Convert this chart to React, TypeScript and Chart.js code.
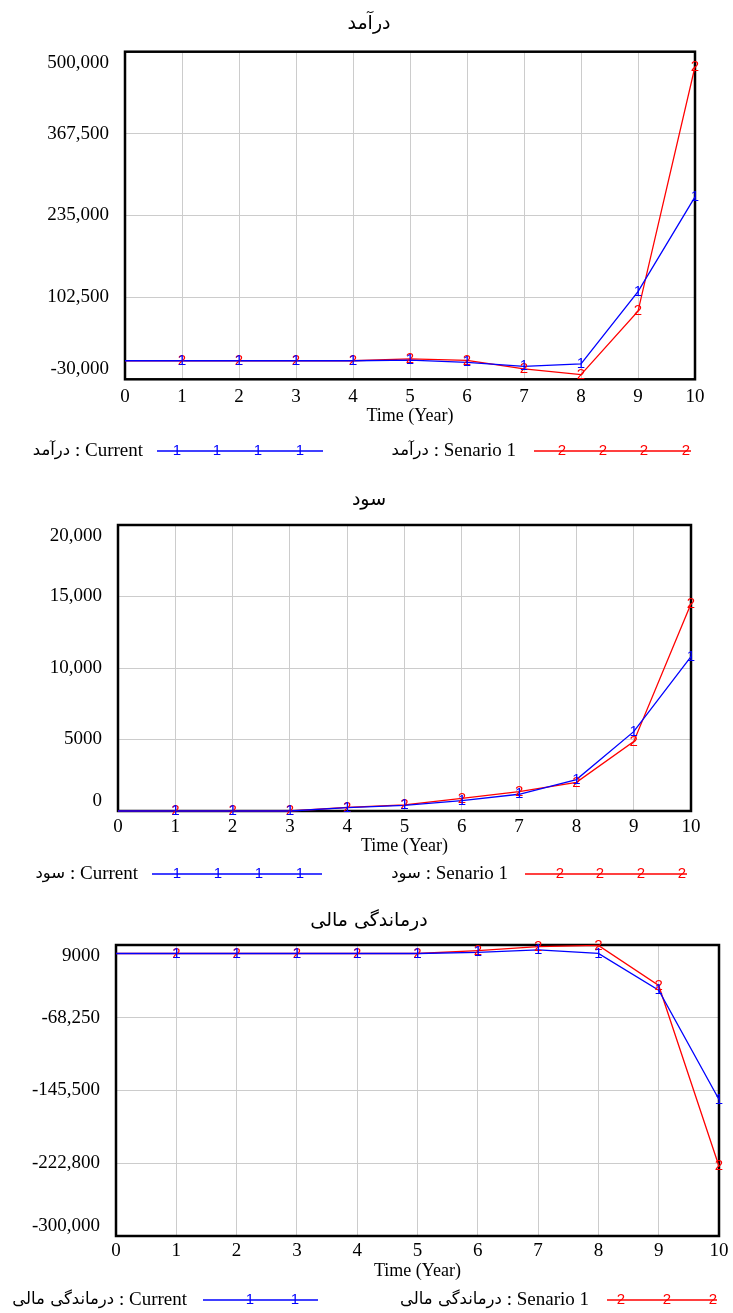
import React, { useEffect, useRef } from "react";
import { Chart, registerables } from "chart.js";

Chart.register(...registerables);

// ---------- data ----------
const years = [0, 1, 2, 3, 4, 5, 6, 7, 8, 9, 10];

const revenueTitle = "درآمد";
const revenueCurrent = [0, 0, 0, 0, 0, 1000, -2500, -9000, -5000, 112000, 265000];
const revenueScenario = [0, 0, 0, 0, 0, 3000, 500, -13000, -22500, 80000, 476000];
const revenueMin = -30000;
const revenueMax = 500000;
const revenueTickLabels = ["500,000", "367,500", "235,000", "102,500", "-30,000"];

const profitTitle = "سود";
const profitCurrent = [0, 0, 0, 0, 230, 400, 720, 1170, 2200, 5550, 10800];
const profitScenario = [0, 0, 0, 0, 250, 430, 880, 1350, 2000, 4850, 14500];
const profitMin = 0;
const profitMax = 20000;
const profitTickLabels = ["20,000", "15,000", "10,000", "5000", "0"];

const distressTitle = "درماندگی مالی";
const distressCurrent = [0, 0, 0, 0, 0, 0, 1200, 3800, 0, -39000, -155000];
const distressScenario = [0, 0, 0, 0, 0, 0, 3000, 7300, 8500, -34000, -226000];
const distressMin = -300000;
const distressMax = 9000;
const distressTickLabels = ["9000", "-68,250", "-145,500", "-222,800", "-300,000"];

const xAxisTitle = "Time (Year)";
const currentName = "Current";
const scenarioName = "Senario 1";
const currentMark = "1";
const scenarioMark = "2";

// ---------- styles ----------
const W = 733;
const SERIF = '"Liberation Serif", "Times New Roman", "DejaVu Sans", serif';
const PERSIAN = '"DejaVu Sans", "Liberation Sans", sans-serif';
const MARKFONT = '"Liberation Sans", Arial, sans-serif';
const BLUE = "#0000ff";
const RED = "#ff0000";
const GRID = "#cccccc";
const XBOX = 40;

interface LegendSpec {
  textRight: number;
  lineStart: number;
  lineEnd: number;
  marks: number[];
}
interface PanelSpec {
  title: string;
  current: number[];
  scenario: number[];
  yMin: number;
  yMax: number;
  tickLabels: string[];
  top: number;
  height: number;
  area: { left: number; right: number; top: number; bottom: number };
  titleY: number;
  xTickPad: number;
  axisTitleY: number;
  legendY: number;
  leg1: LegendSpec;
  leg2: LegendSpec;
}

const panels: PanelSpec[] = [
  {
    title: revenueTitle,
    current: revenueCurrent,
    scenario: revenueScenario,
    yMin: revenueMin,
    yMax: revenueMax,
    tickLabels: revenueTickLabels,
    top: 0,
    height: 470,
    area: { left: 125, right: 695, top: 51.7, bottom: 379.3 },
    titleY: 24,
    xTickPad: 6,
    axisTitleY: 416,
    legendY: 451,
    leg1: { textRight: 143, lineStart: 157, lineEnd: 323, marks: [177, 217, 258, 300] },
    leg2: { textRight: 516, lineStart: 534, lineEnd: 691, marks: [562, 603, 644, 686] },
  },
  {
    title: profitTitle,
    current: profitCurrent,
    scenario: profitScenario,
    yMin: profitMin,
    yMax: profitMax,
    tickLabels: profitTickLabels,
    top: 470,
    height: 420,
    area: { left: 118, right: 691, top: 55, bottom: 341 },
    titleY: 30,
    xTickPad: 5,
    axisTitleY: 376,
    legendY: 404,
    leg1: { textRight: 138, lineStart: 152, lineEnd: 322, marks: [177, 218, 259, 300] },
    leg2: { textRight: 508, lineStart: 525, lineEnd: 687, marks: [560, 600, 641, 682] },
  },
  {
    title: distressTitle,
    current: distressCurrent,
    scenario: distressScenario,
    yMin: distressMin,
    yMax: distressMax,
    tickLabels: distressTickLabels,
    top: 890,
    height: 423,
    area: { left: 116, right: 719, top: 55, bottom: 346 },
    titleY: 31,
    xTickPad: 4,
    axisTitleY: 381,
    legendY: 410,
    leg1: { textRight: 187, lineStart: 203, lineEnd: 318, marks: [250, 295] },
    leg2: { textRight: 589, lineStart: 607, lineEnd: 717, marks: [621, 667, 713] },
  },
];

function tickValues(min: number, max: number, n: number): number[] {
  const out: number[] = [];
  for (let i = 0; i < n; i++) out.push(max - ((max - min) * i) / (n - 1));
  return out;
}

function makePlugin(spec: PanelSpec) {
  const values = tickValues(spec.yMin, spec.yMax, spec.tickLabels.length);
  return {
    id: "vensimDecor",
    beforeDatasetsDraw(chart: any) {
      const { ctx, chartArea: a } = chart;
      ctx.save();
      ctx.strokeStyle = "#000";
      ctx.lineWidth = 2.5;
      ctx.strokeRect(a.left, a.top, a.right - a.left, a.bottom - a.top);
      ctx.restore();
    },
    afterDatasetsDraw(chart: any) {
      const ctx = chart.ctx;
      ctx.save();
      ctx.font = `15px ${MARKFONT}`;
      ctx.textAlign = "center";
      ctx.textBaseline = "middle";
      const marks = [currentMark, scenarioMark];
      [1, 0].forEach((di) => {
        const meta = chart.getDatasetMeta(di);
        ctx.fillStyle = chart.data.datasets[di].borderColor;
        meta.data.forEach((pt: any, i: number) => {
          if (i === 0) return;
          ctx.fillText(marks[di], pt.x, pt.y);
        });
      });
      ctx.restore();
    },
    afterDraw(chart: any) {
      const { ctx, chartArea: a } = chart;
      const ys = chart.scales.y;
      ctx.save();
      // y tick labels
      ctx.fillStyle = "#000";
      ctx.font = `19px ${SERIF}`;
      ctx.textAlign = "right";
      ctx.textBaseline = "middle";
      values.forEach((v, i) => {
        let py = ys.getPixelForValue(v);
        if (i === 0) py += 11;
        else if (i === values.length - 1) py -= 10;
        ctx.fillText(spec.tickLabels[i], a.left - 16, py);
      });
      // title
      ctx.textAlign = "center";
      ctx.font = `19px ${PERSIAN}`;
      ctx.fillText(spec.title, 369, spec.titleY);
      // axis title
      ctx.font = `18px ${SERIF}`;
      ctx.fillText(xAxisTitle, (a.left + a.right) / 2, spec.axisTitleY);
      // legend
      const drawLeg = (leg: LegendSpec, color: string, name: string, mark: string) => {
        ctx.fillStyle = "#000";
        ctx.textAlign = "right";
        ctx.font = `19px ${SERIF}`;
        const latin = ` : ${name}`;
        ctx.fillText(latin, leg.textRight, spec.legendY);
        const lw = ctx.measureText(latin).width;
        ctx.font = `16.5px ${PERSIAN}`;
        ctx.fillText(spec.title, leg.textRight - lw, spec.legendY);
        ctx.strokeStyle = color;
        ctx.lineWidth = 1.3;
        ctx.beginPath();
        ctx.moveTo(leg.lineStart, spec.legendY);
        ctx.lineTo(leg.lineEnd, spec.legendY);
        ctx.stroke();
        ctx.fillStyle = color;
        ctx.font = `15px ${MARKFONT}`;
        ctx.textAlign = "center";
        leg.marks.forEach((mx) => ctx.fillText(mark, mx, spec.legendY));
      };
      drawLeg(spec.leg1, BLUE, currentName, currentMark);
      drawLeg(spec.leg2, RED, scenarioName, scenarioMark);
      ctx.restore();
    },
  };
}

function Panel({ spec }: { spec: PanelSpec }) {
  const ref = useRef<HTMLCanvasElement | null>(null);
  useEffect(() => {
    const canvas = ref.current;
    if (!canvas) return;
    const values = tickValues(spec.yMin, spec.yMax, spec.tickLabels.length);
    const chart = new Chart(canvas, {
      type: "line",
      data: {
        datasets: [
          {
            label: currentName,
            data: years.map((x, i) => ({ x, y: spec.current[i] })),
            borderColor: BLUE,
            backgroundColor: BLUE,
            borderWidth: 1.3,
            pointRadius: 0,
            tension: 0,
            clip: false as any,
          },
          {
            label: scenarioName,
            data: years.map((x, i) => ({ x, y: spec.scenario[i] })),
            borderColor: RED,
            backgroundColor: RED,
            borderWidth: 1.3,
            pointRadius: 0,
            tension: 0,
            clip: false as any,
          },
        ],
      },
      options: {
        responsive: false,
        animation: false,
        devicePixelRatio: 1,
        layout: {
          padding: {
            left: spec.area.left,
            right: W - spec.area.right,
            top: spec.area.top,
            bottom: spec.height - spec.area.bottom - XBOX,
          },
        },
        plugins: {
          legend: { display: false },
          tooltip: { enabled: false },
          title: { display: false },
        },
        scales: {
          x: {
            type: "linear",
            min: 0,
            max: 10,
            ticks: {
              stepSize: 1,
              color: "#000",
              font: { family: SERIF, size: 19 },
              padding: spec.xTickPad,
              maxRotation: 0,
              autoSkip: false,
            },
            grid: { color: GRID, lineWidth: 1, drawTicks: false },
            border: { display: false },
            afterFit: (s: any) => {
              s.height = XBOX;
            },
          },
          y: {
            type: "linear",
            min: spec.yMin,
            max: spec.yMax,
            ticks: { display: false },
            afterBuildTicks: (s: any) => {
              s.ticks = values.map((v) => ({ value: v }));
            },
            grid: { color: GRID, lineWidth: 1, drawTicks: false },
            border: { display: false },
            afterFit: (s: any) => {
              s.width = 0;
            },
          },
        },
      },
      plugins: [makePlugin(spec)],
    } as any);
    return () => chart.destroy();
  }, [spec]);
  return (
    <canvas
      ref={ref}
      width={W}
      height={spec.height}
      style={{ position: "absolute", left: 0, top: spec.top, width: W, height: spec.height, display: "block" }}
    />
  );
}

export default function App() {
  return (
    <div style={{ position: "absolute", left: 0, top: 0, width: W, height: 1313, background: "#fff" }}>
      {panels.map((p, i) => (
        <Panel key={i} spec={p} />
      ))}
    </div>
  );
}
